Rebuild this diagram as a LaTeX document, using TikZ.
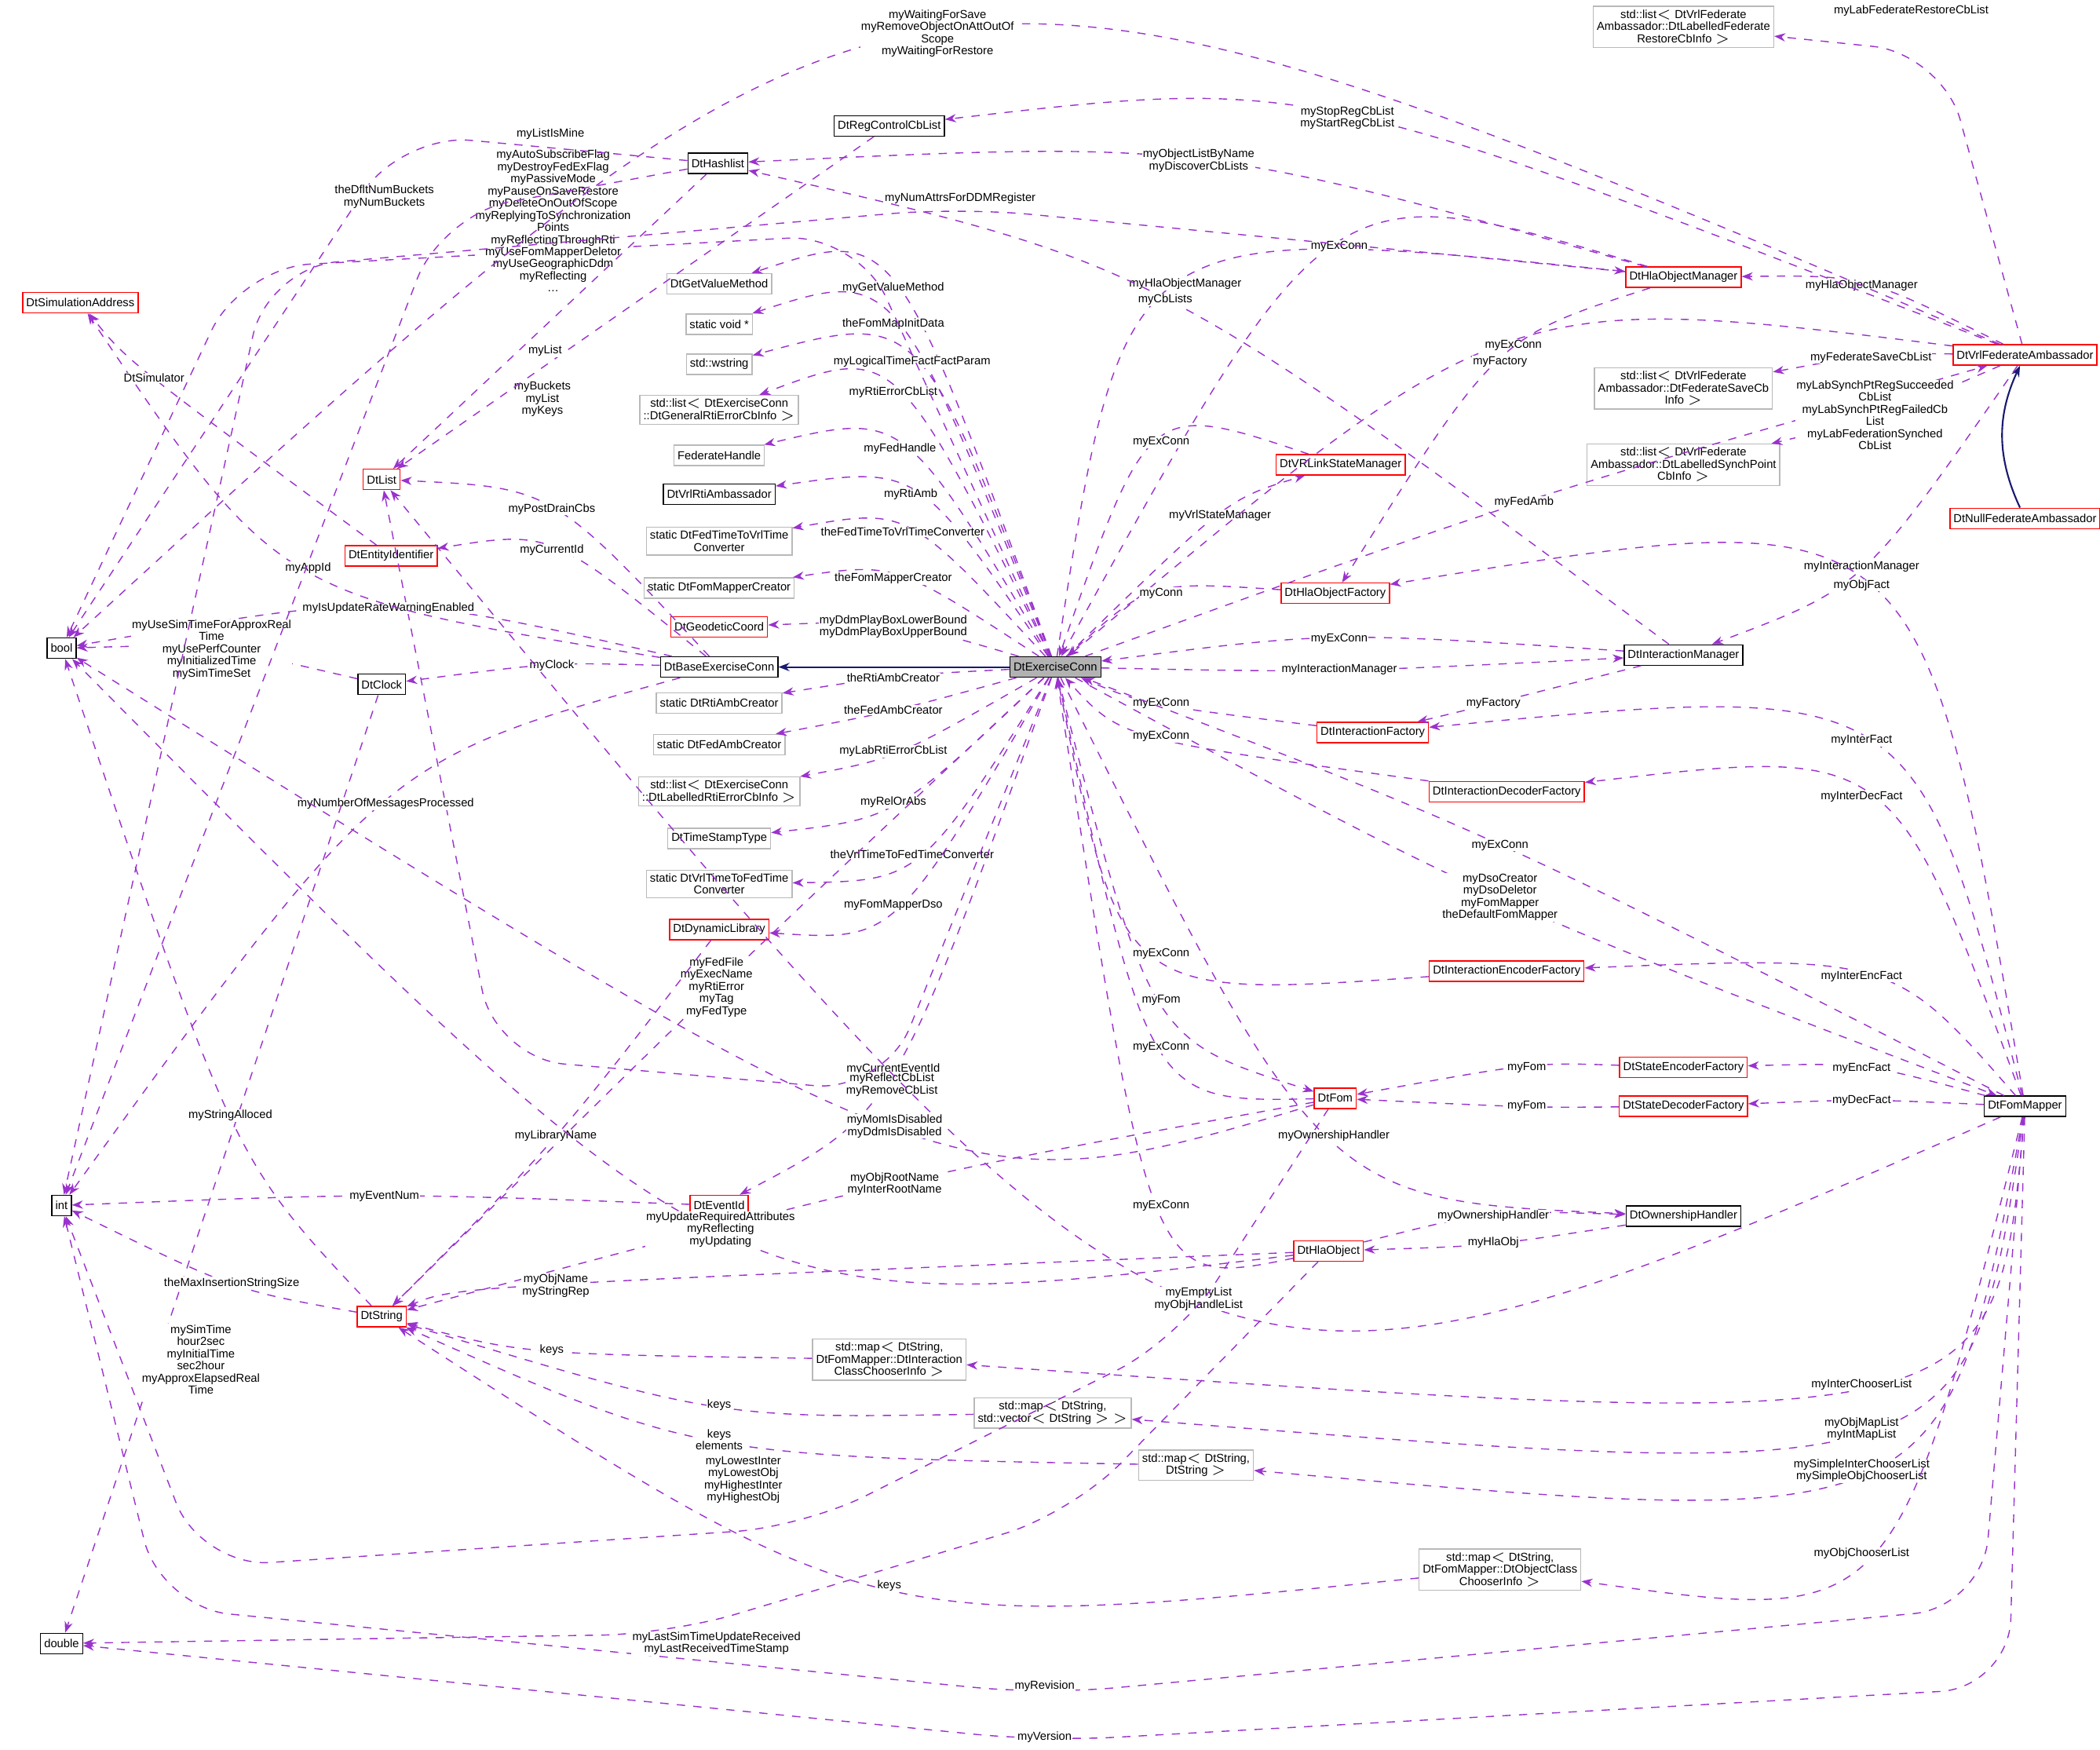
\documentclass[tikz,border=0pt]{standalone}
\usepackage{fontspec}
\setmainfont{Liberation Sans}
\usetikzlibrary{arrows.meta,calc}
\definecolor{memcol}{HTML}{9A32CD}
\definecolor{inhcol}{HTML}{191970}
\tikzset{
  cls/.style={draw=black, rectangle, inner sep=1.3pt, minimum height=0.26cm, align=center, font=\fontsize{4.2}{4.4}\selectfont, fill=white},
  rcls/.style={cls, draw=red},
  gcls/.style={cls, draw=gray!55},
  mem/.style={draw=memcol, dashed, -{Stealth[length=4pt,width=3pt]}, line width=0.4pt},
  inh/.style={draw=inhcol, -{Stealth[length=4pt,width=3pt,open]}, line width=0.6pt},
  lab/.style={font=\fontsize{4.2}{4.4}\selectfont, align=center, inner sep=0.3pt, fill=white}
}
% member connector bent through the label point
\newcommand\memedge[4]{%
  \draw[mem] (#1) .. controls ($1.3333*(#3)-0.16667*(#1)-0.16667*(#2)$) .. (#2);
  \node[lab] at (#3) {#4};}
% member connector routed through given points, label at its own place
\newcommand\memvia[5]{%
  \draw[mem, rounded corners=25pt] (#1) #3 (#2);
  \node[lab] at (#4) {#5};}
\begin{document}
\begin{tikzpicture}[x=0.01706cm, y=-0.01706cm]
    \useasboundingbox (0,0) rectangle (1568,1306);

    % classes on the left
    \node[cls, fill=gray!60] (conn) at (788,498) {DtExerciseConn};
    \node[cls] (base) at (537,498) {DtBaseExerciseConn};
    \node[cls] (bool) at (46,484) {bool};
    \node[cls] (int) at (46,900) {int};
    \node[cls] (double) at (46,1227) {double};
    \node[rcls] (simaddr) at (60,226) {DtSimulationAddress};
    \node[rcls] (list) at (285,358) {DtList};
    \node[rcls] (entid) at (292,415) {DtEntityIdentifier};
    \node[cls] (clock) at (285,511) {DtClock};
    \node[cls] (hash) at (536,122) {DtHashlist};
    \node[cls] (regcb) at (664,94) {DtRegControlCbList};
    \node[rcls] (str) at (285,983) {DtString};

    % member types of DtExerciseConn
    \node[gcls] (getval) at (537,212) {DtGetValueMethod};
    \node[gcls] (voidp) at (537,242) {static void *};
    \node[gcls] (wstr) at (537,272) {std::wstring};
    \node[gcls] (generr) at (537,306) {std::list$<$ DtExerciseConn\\::DtGeneralRtiErrorCbInfo $>$};
    \node[gcls] (fedh) at (537,340) {FederateHandle};
    \node[cls] (rtiamb) at (537,369) {DtVrlRtiAmbassador};
    \node[gcls] (fed2vrl) at (537,404) {static DtFedTimeToVrlTime\\Converter};
    \node[gcls] (fmcreator) at (537,439) {static DtFomMapperCreator};
    \node[rcls] (geo) at (537,468) {DtGeodeticCoord};
    \node[gcls] (rticreator) at (537,525) {static DtRtiAmbCreator};
    \node[gcls] (fedcreator) at (537,556) {static DtFedAmbCreator};
    \node[gcls] (laberr) at (537,591) {std::list$<$ DtExerciseConn\\::DtLabelledRtiErrorCbInfo $>$};
    \node[gcls] (tstype) at (537,626) {DtTimeStampType};
    \node[gcls] (vrl2fed) at (537,660) {static DtVrlTimeToFedTime\\Converter};
    \node[rcls] (dynlib) at (537,694) {DtDynamicLibrary};
    \node[rcls] (evid) at (537,900) {DtEventId};

    % maps
    \node[gcls] (mapinter) at (664,1015) {std::map$<$ DtString,\\DtFomMapper::DtInteraction\\ClassChooserInfo $>$};
    \node[gcls] (mapvec) at (786,1055) {std::map$<$ DtString,\\std::vector$<$ DtString $>$ $>$};
    \node[gcls] (mapstr) at (893,1094) {std::map$<$ DtString,\\DtString $>$};
    \node[gcls] (mapobj) at (1120,1172) {std::map$<$ DtString,\\DtFomMapper::DtObjectClass\\ChooserInfo $>$};

    % classes on the right
    \node[rcls] (objmgr) at (1257,207) {DtHlaObjectManager};
    \node[rcls] (vrlstate) at (1001,347) {DtVRLinkStateManager};
    \node[rcls] (objfact) at (997,443) {DtHlaObjectFactory};
    \node[cls] (intmgr) at (1257,489) {DtInteractionManager};
    \node[rcls] (intfact) at (1025,547) {DtInteractionFactory};
    \node[rcls] (intdec) at (1125,591) {DtInteractionDecoderFactory};
    \node[rcls] (intenc) at (1125,725) {DtInteractionEncoderFactory};
    \node[rcls] (fom) at (997,820) {DtFom};
    \node[rcls] (stenc) at (1257,797) {DtStateEncoderFactory};
    \node[rcls] (stdec) at (1257,826) {DtStateDecoderFactory};
    \node[cls] (own) at (1257,908) {DtOwnershipHandler};
    \node[rcls] (hlaobj) at (992,934) {DtHlaObject};
    \node[cls] (mapper) at (1512,826) {DtFomMapper};
    \node[rcls] (fedamb) at (1512,265) {DtVrlFederateAmbassador};
    \node[rcls] (nullamb) at (1512,387) {DtNullFederateAmbassador};
    \node[gcls] (restore) at (1257,20) {std::list$<$ DtVrlFederate\\Ambassador::DtLabelledFederate\\RestoreCbInfo $>$};
    \node[gcls] (save) at (1257,290) {std::list$<$ DtVrlFederate\\Ambassador::DtFederateSaveCb\\Info $>$};
    \node[gcls] (synch) at (1257,347) {std::list$<$ DtVrlFederate\\Ambassador::DtLabelledSynchPoint\\CbInfo $>$};

    % inheritance
    \draw[inh] (conn) -- (base);
    \draw[inh] (nullamb) to[bend left=25] (fedamb);

    % members of DtExerciseConn
    \memedge{conn}{getval}{667,215}{myGetValueMethod}
    \memedge{conn}{voidp}{667,242}{theFomMapInitData}
    \memedge{conn}{wstr}{681,270}{myLogicalTimeFactFactParam}
    \memedge{conn}{generr}{667,293}{myRtiErrorCbList}
    \memedge{conn}{fedh}{672,335}{myFedHandle}
    \memedge{conn}{rtiamb}{680,369}{myRtiAmb}
    \memedge{conn}{fed2vrl}{674,397}{theFedTimeToVrlTimeConverter}
    \memedge{conn}{fmcreator}{667,432}{theFomMapperCreator}
    \memedge{conn}{geo}{667,468}{myDdmPlayBoxLowerBound\\myDdmPlayBoxUpperBound}
    \memedge{conn}{rticreator}{667,506}{theRtiAmbCreator}
    \memedge{conn}{fedcreator}{667,530}{theFedAmbCreator}
    \memedge{conn}{laberr}{667,561}{myLabRtiErrorCbList}
    \memedge{conn}{tstype}{667,599}{myRelOrAbs}
    \memedge{conn}{vrl2fed}{681,638}{theVrlTimeToFedTimeConverter}
    \memedge{conn}{dynlib}{667,676}{myFomMapperDso}
    \memedge{conn}{evid}{667,798}{myCurrentEventId}
    \memedge{conn}{str}{535,737}{myFedFile\\myExecName\\myRtiError\\myTag\\myFedType}
    \memvia{conn}{bool}{-- (640,175) -- (180,200) --}{413,165}{myAutoSubscribeFlag\\myDestroyFedExFlag\\myPassiveMode\\myPauseOnSaveRestore\\myDeleteOnOutOfScope\\myReplyingToSynchronization\\Points\\myReflectingThroughRti\\myUseFomMapperDeletor\\myUseGeographicDdm\\myReflecting\\\dots}
    \memvia{conn}{list}{-- (660,815) -- (370,790) --}{666,810}{myReflectCbList\\myRemoveCbList}
    \memedge{conn}{objmgr}{885,212}{myHlaObjectManager}
    \memedge{conn}{vrlstate}{911,385}{myVrlStateManager}
    \memedge{conn}{fedamb}{1138,375}{myFedAmb}
    \memedge{conn}{intmgr}{1000,500}{myInteractionManager}
    \memedge{conn}{fom}{867,747}{myFom}
    \memedge{conn}{own}{996,848}{myOwnershipHandler}
    \memedge{conn}{mapper}{1120,670}{myDsoCreator\\myDsoDeletor\\myFomMapper\\theDefaultFomMapper}

    % back references to DtExerciseConn
    \memedge{objmgr}{conn}{1000,184}{myExConn}
    \memedge{fedamb}{conn}{1130,258}{myExConn}
    \memedge{vrlstate}{conn}{867,330}{myExConn}
    \memedge{objfact}{conn}{867,443}{myConn}
    \memedge{intmgr}{conn}{1000,477}{myExConn}
    \memedge{intfact}{conn}{867,525}{myExConn}
    \memedge{intdec}{conn}{867,550}{myExConn}
    \memedge{intenc}{conn}{867,712}{myExConn}
    \memedge{mapper}{conn}{1120,631}{myExConn}
    \memedge{fom}{conn}{867,782}{myExConn}
    \memedge{hlaobj}{conn}{867,900}{myExConn}

    % DtBaseExerciseConn and helpers
    \memedge{base}{bool}{290,454}{myIsUpdateRateWarningEnabled}
    \memedge{base}{list}{412,380}{myPostDrainCbs}
    \memedge{base}{entid}{412,411}{myCurrentId}
    \memedge{base}{clock}{412,497}{myClock}
    \memedge{base}{simaddr}{230,424}{myAppId}
    \memedge{base}{int}{288,600}{myNumberOfMessagesProcessed}
    \memedge{entid}{simaddr}{115,282}{DtSimulator}
    \memedge{clock}{bool}{158,485}{myUseSimTimeForApproxReal\\Time\\myUsePerfCounter\\myInitializedTime\\mySimTimeSet}
    \memvia{clock}{double}{--}{150,1015}{mySimTime\\hour2sec\\myInitialTime\\sec2hour\\myApproxElapsedReal\\Time}
    \memvia{hash}{bool}{-- (300,100) --}{411,100}{myListIsMine}
    \memvia{hash}{int}{-- (330,160) --}{287,147}{theDfltNumBuckets\\myNumBuckets}
    \memvia{hash}{list}{--}{405,298}{myBuckets\\myList\\myKeys}
    \memvia{regcb}{list}{--}{407,262}{myList}
    \memedge{evid}{int}{287,893}{myEventNum}
    \memedge{dynlib}{str}{415,848}{myLibraryName}
    \memedge{str}{int}{173,958}{theMaxInsertionStringSize}
    \memedge{str}{bool}{172,833}{myStringAlloced}
    \memedge{mapinter}{str}{412,1008}{keys}
    \memedge{mapvec}{str}{537,1049}{keys}
    \memedge{mapstr}{str}{537,1075}{keys\\elements}
    \memedge{mapobj}{str}{664,1184}{keys}

    % DtHlaObjectManager, DtInteractionManager, DtVrlFederateAmbassador
    \memedge{objmgr}{hash}{895,120}{myObjectListByName\\myDiscoverCbLists}
    \memvia{objmgr}{int}{-- (717,155) -- (200,200) --}{717,148}{myNumAttrsForDDMRegister}
    \memedge{objmgr}{objfact}{1120,270}{myFactory}
    \memedge{intmgr}{hash}{870,224}{myCbLists}
    \memedge{intmgr}{intfact}{1115,525}{myFactory}
    \memedge{fedamb}{objmgr}{1390,213}{myHlaObjectManager}
    \memedge{fedamb}{intmgr}{1390,423}{myInteractionManager}
    \memvia{fedamb}{restore}{-- (1450,40) --}{1427,8}{myLabFederateRestoreCbList}
    \memedge{fedamb}{save}{1397,267}{myFederateSaveCbList}
    \memedge{fedamb}{synch}{1400,310}{myLabSynchPtRegSucceeded\\CbList\\myLabSynchPtRegFailedCb\\List\\myLabFederationSynched\\CbList}
    \memedge{fedamb}{regcb}{1006,88}{myStopRegCbList\\myStartRegCbList}
    \memedge{fedamb}{bool}{700,25}{myWaitingForSave\\myRemoveObjectOnAttOutOf\\Scope\\myWaitingForRestore}

    % DtFomMapper
    \memedge{mapper}{objfact}{1390,437}{myObjFact}
    \memedge{mapper}{intfact}{1390,553}{myInterFact}
    \memedge{mapper}{intdec}{1390,595}{myInterDecFact}
    \memedge{mapper}{intenc}{1390,729}{myInterEncFact}
    \memedge{mapper}{stenc}{1390,798}{myEncFact}
    \memedge{mapper}{stdec}{1390,822}{myDecFact}
    \memedge{mapper}{mapinter}{1390,1034}{myInterChooserList}
    \memedge{mapper}{mapvec}{1390,1067}{myObjMapList\\myIntMapList}
    \memedge{mapper}{mapstr}{1390,1098}{mySimpleInterChooserList\\mySimpleObjChooserList}
    \memedge{mapper}{mapobj}{1390,1160}{myObjChooserList}
    \memvia{mapper}{int}{-- (1480,1200) -- (780,1265) -- (120,1200) --}{780,1259}{myRevision}
    \memvia{mapper}{double}{-- (1500,1260) -- (780,1300) --}{780,1297}{myVersion}
    \memedge{mapper}{list}{895,970}{myEmptyList\\myObjHandleList}

    % DtFom, DtHlaObject, factories
    \memedge{stenc}{fom}{1140,797}{myFom}
    \memedge{stdec}{fom}{1140,826}{myFom}
    \memedge{fom}{str}{668,884}{myObjRootName\\myInterRootName}
    \memedge{fom}{bool}{668,841}{myMomIsDisabled\\myDdmIsDisabled}
    \memvia{fom}{int}{-- (880,1000) -- (600,1140) -- (150,1170) --}{555,1105}{myLowestInter\\myLowestObj\\myHighestInter\\myHighestObj}
    \memedge{hlaobj}{own}{1115,908}{myOwnershipHandler}
    \memedge{own}{hlaobj}{1115,928}{myHlaObj}
    \memvia{hlaobj}{double}{-- (800,1130) -- (500,1220) --}{535,1227}{myLastSimTimeUpdateReceived\\myLastReceivedTimeStamp}
    \memedge{hlaobj}{str}{415,960}{myObjName\\myStringRep}
    \memedge{hlaobj}{bool}{538,918}{myUpdateRequiredAttributes\\myReflecting\\myUpdating}
\end{tikzpicture}
\end{document}
